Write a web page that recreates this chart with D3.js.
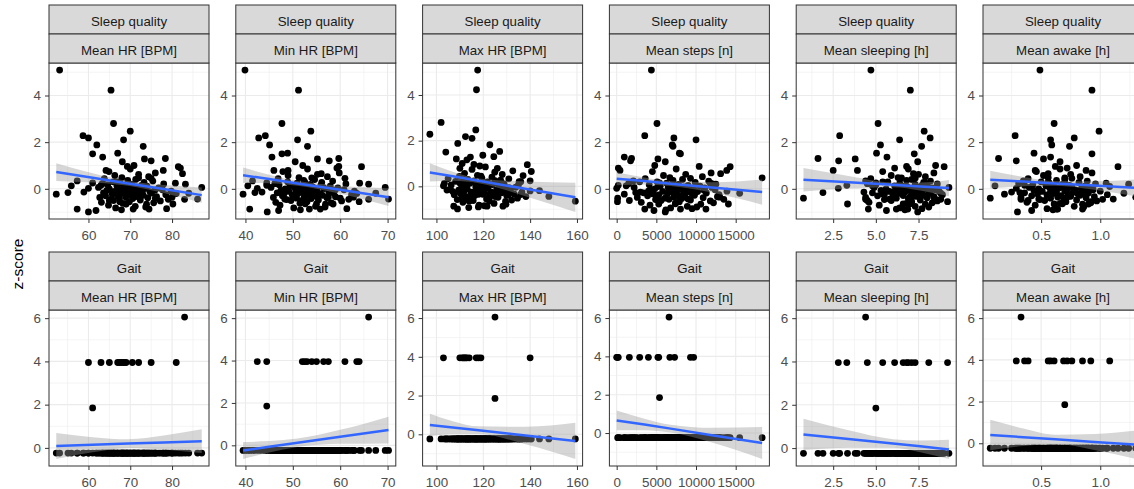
<!DOCTYPE html>
<html>
<head>
<meta charset="utf-8">
<script src="https://cdn.jsdelivr.net/npm/d3@7"></script>
<style>
  body { margin: 0; background: #fff; }
  text { font-family: "Liberation Sans", Arial, sans-serif; }
</style>
</head>
<body>
<svg id="fig" width="1134" height="489"></svg>
<script>

// facet labels
var outcomeLabels = ["Sleep quality", "Gait"];
var varLabels = ["Mean HR [BPM]", "Min HR [BPM]", "Max HR [BPM]", "Mean steps [n]", "Mean sleeping [h]", "Mean awake [h]"];

// one entry per subject: first the outliers, then the gait responders, then the bulk
var zSleep = [
  5.09, 4.23, 2.80, 2.47, 2.28, 2.18, 2.10, 1.88, 1.82, 1.53,
  1.50, 1.36, 1.30, 1.28, 1.20, 1.16, 1.00, 0.96, 0.89, 0.65,
  0.79, 0.79, 0.47, 0.34, 0.13, -0.23, -0.16, -0.14, -0.87, -0.99,
  -0.93, -0.87, -0.87, -0.85, -0.65, 0.06, -0.44, 0.20, 0.24, -0.40,
  0.02, 0.15, -0.50, 0.30, -0.10, -0.65, 0.05, -0.35, 0.45, -0.20, -0.55, 0.10, -0.45, 0.25,
  -0.82, -0.75, -0.70, -0.66, -0.62, -0.60, -0.58, -0.55, -0.52, -0.50,
  -0.48, -0.46, -0.45, -0.42, -0.40, -0.38, -0.37, -0.35, -0.34, -0.32,
  -0.30, -0.29, -0.28, -0.26, -0.25, -0.24, -0.22, -0.21, -0.20, -0.18,
  -0.17, -0.15, -0.14, -0.12, -0.11, -0.10, -0.08, -0.07, -0.05, -0.04,
  -0.03, -0.02, 0.00, 0.01, 0.03, 0.04, 0.06, 0.08, 0.10, 0.11,
  0.13, 0.15, 0.17, 0.19, 0.21, 0.24, 0.27, 0.30, 0.33, 0.36,
  0.40, 0.44, 0.48, 0.52, 0.57, 0.62, 0.68, 0.74, 0.85, 0.95,
  -0.90, -0.78, -0.64, -0.44, -0.31, -0.19, -0.06, 0.07, 0.22, -0.36
];
var zGait = [
  -0.24, -0.24, -0.24, -0.24, -0.24, -0.24, -0.24, -0.24, -0.24, -0.24,
  -0.24, -0.24, -0.24, -0.24, -0.24, -0.24, -0.24, -0.24, -0.24, -0.24,
  -0.24, -0.24, -0.24, -0.24, -0.24, -0.24, -0.24, -0.24, -0.24, -0.24,
  -0.24, -0.24, -0.24, -0.24, -0.24, -0.24, -0.24, -0.24, -0.24, -0.24,
  3.95, 3.95, 3.95, 3.95, 3.95, 3.95, 3.95, 3.95, 3.95, 3.95, 3.95, 3.95, 6.05, 1.85,
  -0.24, -0.24, -0.24, -0.24, -0.24, -0.24, -0.24, -0.24, -0.24, -0.24,
  -0.24, -0.24, -0.24, -0.24, -0.24, -0.24, -0.24, -0.24, -0.24, -0.24,
  -0.24, -0.24, -0.24, -0.24, -0.24, -0.24, -0.24, -0.24, -0.24, -0.24,
  -0.24, -0.24, -0.24, -0.24, -0.24, -0.24, -0.24, -0.24, -0.24, -0.24,
  -0.24, -0.24, -0.24, -0.24, -0.24, -0.24, -0.24, -0.24, -0.24, -0.24,
  -0.24, -0.24, -0.24, -0.24, -0.24, -0.24, -0.24, -0.24, -0.24, -0.24,
  -0.24, -0.24, -0.24, -0.24, -0.24, -0.24, -0.24, -0.24, -0.24, -0.24,
  -0.24, -0.24, -0.24, -0.24, -0.24, -0.24, -0.24, -0.24, -0.24, -0.24
];
var hrMean = [
  53.1, 65.4, 66.0, 70.0, 58.7, 60.0, 68.4, 62.0, 73.1, 67.0,
  61.0, 63.4, 78.4, 73.4, 75.0, 68.1, 70.9, 69.3, 82.0, 82.5,
  77.9, 64.2, 72.0, 57.3, 55.9, 52.3, 55.1, 58.9, 57.3, 60.0,
  61.8, 70.7, 74.5, 78.7, 80.2, 87.1, 86.1, 83.2, 80.8, 76.0,
  60.0, 63.0, 65.0, 67.0, 68.0, 69.0, 70.5, 72.0, 75.0, 81.0, 67.5, 68.5, 83.0, 61.0,
  66.5, 71.2, 64.8, 73.9, 68.2, 75.6, 63.1, 69.8, 77.2, 66.0,
  72.4, 65.3, 79.1, 70.6, 67.4, 74.2, 62.7, 68.9, 76.3, 71.8,
  64.1, 69.3, 73.1, 66.9, 78.5, 70.2, 65.7, 72.9, 67.8, 75.1,
  63.6, 71.0, 68.5, 74.7, 66.2, 79.8, 69.6, 64.4, 72.2, 77.7,
  67.1, 70.9, 65.0, 73.5, 68.7, 76.8, 62.4, 71.5, 69.1, 74.0,
  66.8, 72.7, 64.6, 70.4, 78.0, 67.6, 73.3, 65.9, 75.4, 69.4,
  71.3, 63.8, 68.0, 74.4, 66.3, 72.0, 76.0, 64.9, 70.0, 81.5,
  67.9, 73.7, 69.0, 65.5, 71.7, 84.0, 75.9, 68.4, 63.3, 80.0
];
var hrMin = [
  39.9, 51.2, 47.7, 53.8, 44.2, 42.8, 51.0, 45.1, 53.1, 48.9,
  47.7, 45.6, 59.7, 55.2, 57.7, 50.5, 52.1, 59.7, 59.3, 56.0,
  49.0, 46.0, 54.0, 41.5, 40.5, 39.5, 42.0, 43.5, 40.9, 44.6,
  47.0, 53.5, 55.8, 61.4, 58.5, 69.5, 70.2, 66.0, 64.1, 60.0,
  42.5, 44.5, 52.0, 52.5, 54.0, 55.0, 56.5, 57.5, 61.0, 63.5, 64.0, 53.0, 66.0, 44.5,
  50.2, 54.8, 47.3, 56.9, 51.5, 58.1, 46.4, 53.0, 60.3, 49.6,
  55.4, 48.7, 61.8, 53.9, 50.8, 57.2, 45.9, 52.4, 59.0, 54.1,
  47.8, 52.9, 56.3, 49.9, 62.4, 53.5, 48.1, 55.8, 51.1, 58.6,
  46.7, 54.5, 51.9, 57.6, 49.2, 63.0, 52.7, 47.5, 55.1, 60.8,
  50.6, 53.3, 48.4, 56.6, 51.7, 59.5, 45.4, 54.2, 52.0, 57.9,
  49.4, 55.9, 47.1, 53.7, 61.2, 50.9, 56.1, 48.9, 58.4, 52.3,
  54.6, 46.9, 51.3, 57.3, 49.0, 55.2, 59.8, 47.9, 53.1, 64.5,
  51.6, 56.8, 52.6, 48.3, 54.9, 67.5, 58.9, 50.4, 46.2, 62.8
];
var hrMax = [
  117.6, 117.1, 102.0, 116.8, 97.2, 112.4, 115.2, 109.1, 122.8, 127.0,
  104.0, 119.8, 124.5, 114.5, 108.5, 113.0, 111.0, 116.0, 118.5, 140.5,
  126.0, 110.0, 137.0, 105.0, 103.4, 107.0, 104.5, 106.0, 107.4, 109.0,
  113.8, 121.6, 128.4, 120.5, 159.3, 135.0, 148.0, 136.0, 140.0, 130.0,
  103.0, 110.0, 111.0, 112.0, 113.0, 114.0, 117.0, 118.0, 119.0, 140.0, 111.5, 112.5, 125.0, 125.0,
  118.2, 124.6, 111.3, 129.5, 115.7, 132.1, 108.9, 121.4, 134.6, 113.8,
  126.3, 112.5, 138.2, 122.9, 116.4, 130.7, 107.6, 119.8, 133.2, 125.1,
  110.2, 120.6, 127.8, 114.9, 136.5, 123.3, 111.9, 128.4, 117.0, 131.4,
  109.5, 125.7, 119.1, 130.2, 113.1, 131.8, 121.0, 110.7, 127.1, 133.9,
  116.8, 122.1, 112.8, 129.0, 118.7, 126.9, 106.3, 124.0, 120.2, 128.9,
  114.3, 126.0, 111.0, 121.8, 135.3, 116.1, 127.4, 113.4, 130.9, 119.4,
  123.7, 109.8, 117.5, 128.1, 112.0, 124.9, 132.6, 115.2, 120.9, 138.8,
  117.9, 129.7, 122.6, 114.0, 126.6, 144.0, 131.0, 118.9, 108.2, 136.0
];
var meanSteps = [
  4375, null, 5080, null, 3540, 7210, 10000, 7000, 7100, 7900,
  8040, 960, 1875, 5200, 1750, 6125, 4800, 10400, 210, 13100,
  420, 13870, 18330, 2100, 1200, 960, 2400, 3000, 3540, 6125,
  4700, 8040, 11250, 9500, 14080, 12000, 9000, 12500, 11800, 125,
  0, 200, 1600, 2900, 4000, 5300, 6700, 7300, 9300, 9700, 100, 5200, 6600, 5400,
  6800, 8900, 4200, 10600, 7400, 12200, 3100, 7900, 11800, 5600,
  9300, 4900, 13500, 8200, 6100, 10900, 2600, 7200, 12700, 8600,
  3900, 7700, 9800, 5300, 12900, 8400, 4600, 9500, 6400, 11300,
  3400, 8800, 7000, 10200, 5800, 13900, 7600, 4400, 9100, 12400,
  6600, 8100, 4800, 9700, 7300, 11100, 2200, 8500, 6900, 10500,
  5500, 9000, 4100, 7800, 12100, 6300, 9900, 5100, 11600, 7100,
  8300, 3600, 6700, 10800, 5900, 8700, 11900, 4500, 7500, 14300,
  6200, 10100, 7400, 5000, 8000, 15500, 11000, 6500, 1500, 13000
];
var meanSleep = [
  4.71, 7.02, 5.13, 7.83, 2.88, 8.18, 6.39, 5.27, 7.68, 5.04,
  7.25, 5.65, 1.61, 3.79, 2.82, 7.45, 8.50, 6.80, 6.10, 7.20,
  2.50, 3.92, 6.50, 4.40, 4.80, 5.50, 1.90, 4.30, 6.87, 7.45,
  5.62, 6.20, 4.56, 7.70, 3.34, 9.28, 8.47, 8.00, 7.90, 0.76,
  2.80, 3.30, 4.50, 5.40, 6.10, 6.60, 6.90, 7.10, 7.30, 8.10, 9.20, 6.80, 4.40, 5.00,
  6.4, 7.3, 5.2, 7.9, 6.8, 8.3, 4.6, 7.1, 8.6, 5.9,
  7.6, 5.5, 8.8, 6.9, 6.2, 8.0, 4.4, 7.0, 8.4, 7.4,
  5.1, 6.6, 7.8, 6.0, 8.9, 7.2, 5.4, 7.7, 6.3, 8.2,
  4.8, 7.5, 6.7, 8.1, 5.8, 8.7, 7.0, 5.3, 7.6, 8.5,
  6.5, 7.2, 5.6, 7.9, 6.9, 8.3, 4.9, 7.4, 6.6, 8.0,
  6.1, 7.7, 5.0, 7.3, 8.6, 6.4, 7.8, 5.7, 8.2, 6.8,
  7.1, 4.7, 6.3, 7.9, 5.9, 7.5, 8.4, 5.4, 6.9, 9.0,
  6.7, 8.1, 7.0, 5.8, 7.3, 8.8, 7.7, 6.2, 4.5, 8.4
];
var meanAwake = [
  0.49, 0.93, 0.61, 0.99, 0.28, 0.78, 0.58, 0.59, 0.74, 0.44,
  0.93, 0.58, 0.14, 0.52, 0.29, 0.66, 0.80, 0.62, 0.72, 0.56,
  0.88, 0.45, 0.70, 0.35, 0.11, 0.19, 0.32, 0.25, 0.64, 0.30,
  0.42, 0.85, 0.63, 0.55, 0.90, 0.88, 1.11, 1.24, 1.05, 0.07,
  0.29, 0.36, 0.39, 0.56, 0.58, 0.61, 0.69, 0.72, 0.76, 0.85, 0.92, 1.08, 0.33, 0.70,
  0.62, 0.78, 0.45, 0.85, 0.66, 0.92, 0.38, 0.71, 0.97, 0.53,
  0.80, 0.49, 1.02, 0.69, 0.58, 0.88, 0.33, 0.64, 0.95, 0.75,
  0.42, 0.67, 0.83, 0.55, 1.06, 0.73, 0.47, 0.81, 0.60, 0.90,
  0.36, 0.77, 0.63, 0.86, 0.51, 1.00, 0.70, 0.44, 0.79, 0.94,
  0.59, 0.72, 0.48, 0.84, 0.65, 0.91, 0.40, 0.76, 0.61, 0.87,
  0.54, 0.74, 0.43, 0.68, 0.96, 0.57, 0.82, 0.50, 0.89, 0.63,
  0.70, 0.39, 0.56, 0.83, 0.52, 0.75, 0.93, 0.46, 0.66, 1.15,
  0.60, 0.86, 0.68, 0.48, 0.74, 1.20, 0.90, 0.57, 0.31, 1.30
];

// lm smooth: x positions, fitted value, half width of the CI band
var smoothX = [
  [52.3, 61, 69.5, 78, 87.1],
  [39.5, 45, 51, 60, 70.2],
  [97.2, 107, 118, 138, 159.3],
  [0, 3500, 6800, 12000, 18330],
  [0.76, 3.4, 6.0, 7.6, 9.28],
  [0.07, 0.35, 0.62, 0.95, 1.30]
];
var smoothFitSleep = [
  [0.72, 0.47, 0.23, -0.01, -0.27],
  [0.58, 0.42, 0.23, -0.04, -0.36],
  [0.61, 0.44, 0.24, -0.11, -0.48],
  [0.43, 0.33, 0.22, 0.06, -0.14],
  [0.39, 0.28, 0.17, 0.10, 0.03],
  [0.39, 0.31, 0.23, 0.14, 0.04]
];
var smoothHwSleep = [
  [0.38, 0.20, 0.10, 0.17, 0.33],
  [0.33, 0.18, 0.10, 0.17, 0.38],
  [0.40, 0.20, 0.10, 0.32, 0.64],
  [0.28, 0.15, 0.10, 0.22, 0.54],
  [0.50, 0.27, 0.10, 0.17, 0.35],
  [0.38, 0.20, 0.10, 0.18, 0.36]
];
var smoothFitGait = [
  [0.09, 0.145, 0.20, 0.25, 0.31],
  [-0.24, -0.07, 0.12, 0.40, 0.72],
  [0.48, 0.35, 0.21, -0.06, -0.34],
  [0.66, 0.45, 0.23, -0.11, -0.52],
  [0.63, 0.42, 0.21, 0.08, -0.06],
  [0.40, 0.29, 0.19, 0.06, -0.07]
];
var smoothHwGait = [
  [0.60, 0.35, 0.20, 0.32, 0.55],
  [0.40, 0.27, 0.20, 0.33, 0.63],
  [0.58, 0.33, 0.20, 0.45, 0.93],
  [0.52, 0.30, 0.20, 0.38, 0.83],
  [0.72, 0.40, 0.20, 0.27, 0.44],
  [0.73, 0.42, 0.22, 0.38, 0.68]
];

// axis breaks
var xTicks = [[60, 70, 80], [40, 50, 60, 70], [100, 120, 140, 160], [0, 5000, 10000, 15000], [2.5, 5, 7.5], [0.5, 1]];
var xTickLabels = [["60", "70", "80"], ["40", "50", "60", "70"], ["100", "120", "140", "160"],
                   ["0", "5000", "10000", "15000"], ["2.5", "5.0", "7.5"], ["0.5", "1.0"]];
var xMinor = [[55, 65, 75, 85], [45, 55, 65], [110, 130, 150], [2500, 7500, 12500, 17500], [1.25, 3.75, 6.25, 8.75], [0.25, 0.75, 1.25]];
var yTicks = [[0, 2, 4], [0, 2, 4, 6]];
var yMinor = [[-1, 1, 3, 5], [-1, 1, 3, 5]];


var svg = d3.select("#fig");
svg.append("rect").attr("width", 1134).attr("height", 489).attr("fill", "#fff");

var xCols = [hrMean, hrMin, hrMax, meanSteps, meanSleep, meanAwake];
var yCols = [zSleep, zGait];
var fitCols = [smoothFitSleep, smoothFitGait];
var hwCols = [smoothHwSleep, smoothHwGait];

var W = 160, H = 156, stripH = 29;
var rowTop = [5, 252];
function colX(c) { return 49 + c * 186.8; }

function draw_panel(r, c) {
    var pts = [];
    xCols[c].forEach(function(v, i) {
        if (v !== null && yCols[r][i] !== null) pts.push({x: v, y: yCols[r][i]});
    });
    var band = smoothX[c].map(function(v, i) {
        var f = fitCols[r][c][i], w = hwCols[r][c][i];
        return {x: v, fit: f, lo: f - w, hi: f + w};
    });

    var xe = d3.extent(pts, function(d) { return d.x; });
    var ylo = Math.min(d3.min(pts, function(d) { return d.y; }), d3.min(band, function(d) { return d.lo; }));
    var yhi = Math.max(d3.max(pts, function(d) { return d.y; }), d3.max(band, function(d) { return d.hi; }));
    var xp = (xe[1] - xe[0]) * 0.05, yp = (yhi - ylo) * 0.05;

    var px = colX(c), py = rowTop[r] + 2 * stripH;
    var x = d3.scaleLinear().domain([xe[0] - xp, xe[1] + xp]).range([px, px + W]);
    var y = d3.scaleLinear().domain([ylo - yp, yhi + yp]).range([py + H, py]);
    var xd = x.domain(), yd = y.domain();

    var g = svg.append("g");
    var clipId = "clip_" + r + "_" + c;
    g.append("clipPath").attr("id", clipId)
        .append("rect").attr("x", px).attr("y", py).attr("width", W).attr("height", H);

    g.append("rect").attr("x", px).attr("y", py).attr("width", W).attr("height", H).attr("fill", "#fff");

    // grid
    var grid = g.append("g");
    grid.selectAll(".xmin").data(xMinor[c].filter(function(v) { return v > xd[0] && v < xd[1]; }))
        .enter().append("line")
        .attr("x1", function(d) { return x(d); }).attr("x2", function(d) { return x(d); })
        .attr("y1", py).attr("y2", py + H)
        .attr("stroke", "#EBEBEB").attr("stroke-width", 0.55);
    grid.selectAll(".ymin").data(yMinor[r].filter(function(v) { return v > yd[0] && v < yd[1]; }))
        .enter().append("line")
        .attr("y1", function(d) { return y(d); }).attr("y2", function(d) { return y(d); })
        .attr("x1", px).attr("x2", px + W)
        .attr("stroke", "#EBEBEB").attr("stroke-width", 0.55);
    grid.selectAll(".xmaj").data(xTicks[c])
        .enter().append("line")
        .attr("x1", function(d) { return x(d); }).attr("x2", function(d) { return x(d); })
        .attr("y1", py).attr("y2", py + H)
        .attr("stroke", "#EBEBEB").attr("stroke-width", 1.1);
    grid.selectAll(".ymaj").data(yTicks[r])
        .enter().append("line")
        .attr("y1", function(d) { return y(d); }).attr("y2", function(d) { return y(d); })
        .attr("x1", px).attr("x2", px + W)
        .attr("stroke", "#EBEBEB").attr("stroke-width", 1.1);

    var inner = g.append("g").attr("clip-path", "url(#" + clipId + ")");

    inner.selectAll("circle").data(pts).enter().append("circle")
        .attr("cx", function(d) { return x(d.x); })
        .attr("cy", function(d) { return y(d.y); })
        .attr("r", 3.4)
        .attr("fill", "#000");

    var area = d3.area()
        .x(function(d) { return x(d.x); })
        .y0(function(d) { return y(d.lo); })
        .y1(function(d) { return y(d.hi); })
        .curve(d3.curveMonotoneX);
    inner.append("path").datum(band).attr("d", area)
        .attr("fill", "#999999").attr("fill-opacity", 0.4);

    var line = d3.line()
        .x(function(d) { return x(d.x); })
        .y(function(d) { return y(d.fit); });
    inner.append("path").datum(band).attr("d", line)
        .attr("fill", "none").attr("stroke", "#3366FF").attr("stroke-width", 2.5);

    g.append("rect").attr("x", px).attr("y", py).attr("width", W).attr("height", H)
        .attr("fill", "none").attr("stroke", "#333333").attr("stroke-width", 1);

    // axes
    var xa = g.append("g").attr("transform", "translate(0," + (py + H) + ")")
        .call(d3.axisBottom(x).tickValues(xTicks[c])
              .tickFormat(function(d, i) { return xTickLabels[c][i]; })
              .tickSize(4).tickSizeOuter(0).tickPadding(7));
    var ya = g.append("g").attr("transform", "translate(" + px + ",0)")
        .call(d3.axisLeft(y).tickValues(yTicks[r])
              .tickFormat(d3.format("d"))
              .tickSize(4).tickSizeOuter(0).tickPadding(4));
    [xa, ya].forEach(function(a) {
        a.select(".domain").remove();
        a.selectAll(".tick line").attr("stroke", "#333333").attr("stroke-width", 1);
        a.selectAll(".tick text").attr("fill", "#4D4D4D")
            .style("font-size", "13.4px")
            .style("font-family", "'Liberation Sans', Arial, sans-serif");
    });

    // strips
    [outcomeLabels[r], varLabels[c]].forEach(function(lab, k) {
        var sy = rowTop[r] + k * stripH;
        g.append("rect").attr("x", px).attr("y", sy).attr("width", W).attr("height", stripH)
            .attr("fill", "#D9D9D9").attr("stroke", "#333333").attr("stroke-width", 1);
        g.append("text").attr("x", px + W / 2).attr("y", sy + 20.7)
            .attr("text-anchor", "middle")
            .attr("fill", "#1A1A1A")
            .style("font-size", "13.3px")
            .text(lab);
    });
}

for (var r = 0; r < 2; r++) {
    for (var c = 0; c < 6; c++) {
        draw_panel(r, c);
    }
}

svg.append("text")
    .attr("transform", "translate(23,264) rotate(-90)")
    .attr("text-anchor", "middle")
    .attr("fill", "#000")
    .style("font-size", "15.5px")
    .text("z-score");

</script>
</body>
</html>
